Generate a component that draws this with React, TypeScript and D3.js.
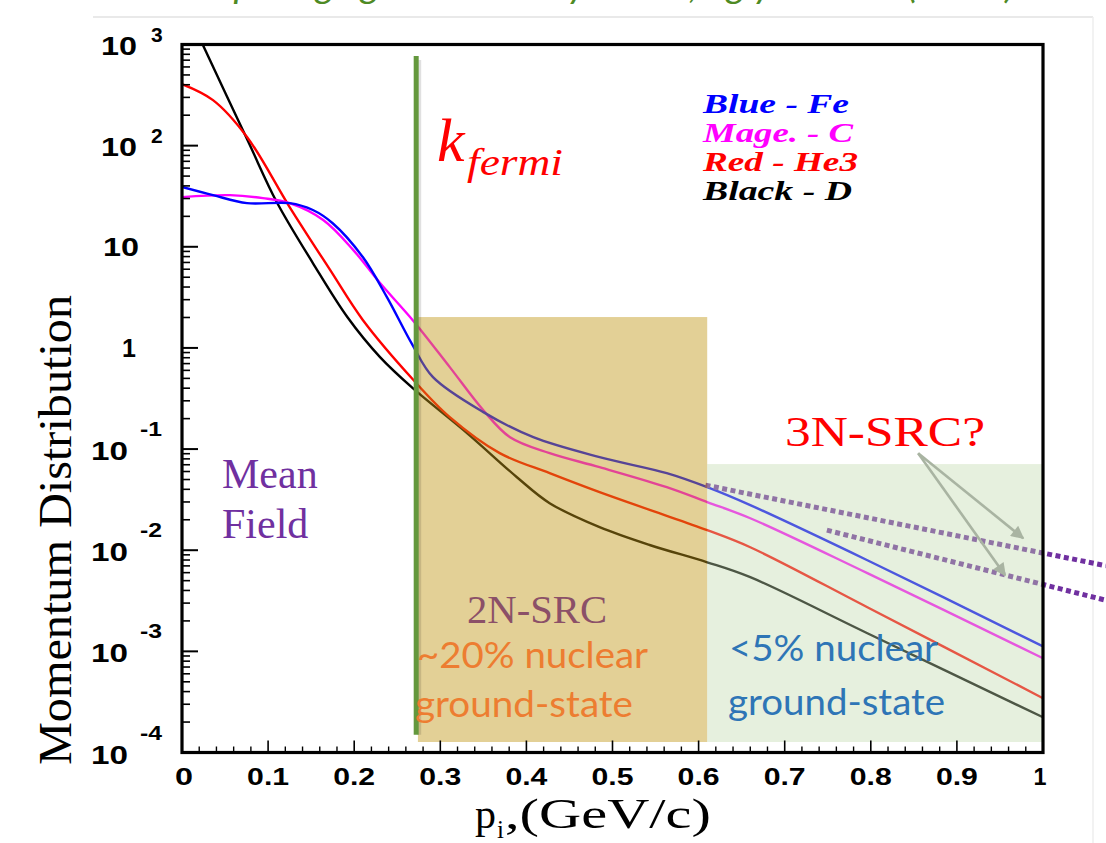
import React from "react";
import * as d3 from "d3";

// momentum (GeV/c) and distribution values, one pair per nucleus
const momentumFe = [0, 0.036, 0.0755, 0.125, 0.152, 0.175, 0.21, 0.238, 0.268, 0.2915, 0.35, 0.408, 0.485, 0.563, 0.61, 0.66, 0.796, 1.0];
const distFe = [39.0, 32.4, 27.0, 27.0, 23.1, 17.1, 7.91, 3.18, 1.06, 0.514, 0.232, 0.131, 0.0832, 0.0578, 0.042, 0.0279, 0.00796, 0.00112];

const momentumC = [0, 0.0557, 0.094, 0.125, 0.164, 0.199, 0.23, 0.268, 0.311, 0.35, 0.381, 0.427, 0.485, 0.563, 0.61, 0.66, 0.796, 1.0];
const distC = [31.0, 32.4, 30.3, 27.0, 18.4, 9.27, 4.38, 1.88, 0.646, 0.242, 0.131, 0.0912, 0.0662, 0.042, 0.0299, 0.0207, 0.00593, 0.000855];

const momentumHe3 = [0, 0.036, 0.0755, 0.125, 0.172, 0.21, 0.268, 0.311, 0.369, 0.427, 0.485, 0.544, 0.61, 0.66, 0.796, 1.0];
const distHe3 = [406, 282, 122, 24.7, 5.9, 1.89, 0.49, 0.207, 0.0912, 0.0578, 0.0375, 0.0249, 0.0158, 0.0107, 0.00273, 0.000344];

const momentumD = [0, 0.024, 0.077, 0.11, 0.152, 0.192, 0.23, 0.268, 0.331, 0.389, 0.427, 0.485, 0.544, 0.61, 0.66, 0.796, 1.0];
const distD = [2750, 1000, 109, 27.7, 6.9, 2.02, 0.811, 0.4, 0.144, 0.0527, 0.0292, 0.0169, 0.0112, 0.0076, 0.00541, 0.00151, 0.000223];

// extrapolated 3N-SRC guesses (start, end)
const dotted1X = [0.608, 1.073];
const dotted1Y = [0.044, 0.00703];
const dotted2X = [0.749, 1.073];
const dotted2Y = [0.01578, 0.0032];

// arrows from the "3N-SRC?" label
const arrowFromX = 0.855;
const arrowFromY = 0.091;
const arrowTipX = [0.977, 0.956];
const arrowTipY = [0.01315, 0.00566];

// regions
const kFermi = 0.272;
const kFermiSpan = [770, 1.5e-4];
const src2X = [0.274, 0.61];
const src2Y = [1.27e-4, 2.02];
const src3X = [0.61, 1.0];
const src3Y = [1.27e-4, 0.0711];

const xTicks = [0, 0.1, 0.2, 0.3, 0.4, 0.5, 0.6, 0.7, 0.8, 0.9, 1];
const xTickLabels = ["0", "0.1", "0.2", "0.3", "0.4", "0.5", "0.6", "0.7", "0.8", "0.9", "1"];
const yExponents = [3, 2, 1, 0, -1, -2, -3, -4];

const legendLabels = ["Blue - Fe", "Mage. - C", "Red - He3", "Black - D"];
const legendColors = ["#0000ff", "#ff00ff", "#ff0000", "#000000"];

const width = 1106;
const height = 843;
const plot = { left: 182, right: 1043, top: 44.5, bottom: 752.5 };

const SERIF = "'Liberation Serif', 'Times New Roman', serif";
const SANS = "'Liberation Sans', Arial, sans-serif";
const GILL = "Lato, 'Open Sans', sans-serif";

export default function App() {
    const x = d3.scaleLinear().domain([0, 1]).range([plot.left, plot.right]);
    const y = d3.scaleLog().domain([1e-4, 1e3]).range([plot.bottom, plot.top]);

    const line = d3
        .line<[number, number]>()
        .x(d => x(d[0]))
        .y(d => y(d[1]))
        .curve(d3.curveCatmullRom.alpha(0.5));

    const series = [
        { name: "D", color: "#000000", p: momentumD, v: distD },
        { name: "He3", color: "#ff0000", p: momentumHe3, v: distHe3 },
        { name: "C", color: "#ff00ff", p: momentumC, v: distC },
        { name: "Fe", color: "#0000ff", p: momentumFe, v: distFe },
    ];

    const yMinor = y.ticks().filter(t => Math.abs(Math.log10(t) - Math.round(Math.log10(t))) > 1e-6);
    const xMinor = d3.range(0, 1.0001, 0.02).filter(t => Math.abs(t * 10 - Math.round(t * 10)) > 1e-6);

    const rect = (xs: number[], ys: number[]) => ({
        x: x(xs[0]),
        y: y(ys[1]),
        width: x(xs[1]) - x(xs[0]),
        height: y(ys[0]) - y(ys[1]),
    });

    const tickFont = { fontFamily: SANS, fontWeight: "bold", fill: "#000" };

    return (
        <svg width={width} height={height} style={{ position: "absolute", left: 0, top: 0, background: "#fff" }}>
            <defs>
                <clipPath id="plotClip">
                    <rect x={plot.left} y={plot.top} width={plot.right - plot.left} height={plot.bottom - plot.top} />
                </clipPath>
                <marker id="arrowHead" viewBox="0 0 10 10" refX="9" refY="5" markerWidth="6" markerHeight="5" orient="auto">
                    <path d="M0,0 L10,5 L0,10 z" fill="#a9b4a2" />
                </marker>
            </defs>

            {/* slide frame and clipped title */}
            <line x1={93} x2={1093} y1={17} y2={17} stroke="#e2e2e2" strokeWidth={1.5} />
            <line x1={1093} x2={1093} y1={17} y2={height} stroke="#eeeeee" strokeWidth={1.5} />
            <text x={160} y={-2} fontFamily={GILL} fontStyle="italic" fontSize={36} fill="#4e8a24"
                textLength={855} lengthAdjust="spacingAndGlyphs">
                Comparing light and heavy nuclei, Egiyan et al. (2006)
            </text>

            {/* momentum distributions */}
            <g clipPath="url(#plotClip)">
                {series.map(s => (
                    <path key={s.name} d={line(s.p.map((p, i) => [p, s.v[i]]) as [number, number][]) || ""}
                        fill="none" stroke={s.color} strokeWidth={2.4} />
                ))}
            </g>

            {/* 3N-SRC extrapolations */}
            {[[dotted1X, dotted1Y], [dotted2X, dotted2Y]].map(([xs, ys], i) => (
                <line key={i} x1={x(xs[0])} y1={y(ys[0])} x2={x(xs[1])} y2={y(ys[1])}
                    stroke="#7030a0" strokeWidth={5} strokeDasharray="5 3.5" />
            ))}

            {/* SRC regions, semi transparent over the curves */}
            <rect {...rect(src2X, src2Y)} fill="rgb(193,151,22)" fillOpacity={0.45} />
            <rect {...rect(src3X, src3Y)} fill="rgb(192,217,172)" fillOpacity={0.4} />

            {/* arrows */}
            {arrowTipX.map((tx, i) => (
                <line key={i} x1={x(arrowFromX)} y1={y(arrowFromY)} x2={x(tx)} y2={y(arrowTipY[i])}
                    stroke="#a9b4a2" strokeWidth={2.6} markerEnd="url(#arrowHead)" />
            ))}

            {/* k fermi line */}
            <line x1={x(kFermi) + 3} x2={x(kFermi) + 3} y1={y(kFermiSpan[0]) + 4} y2={y(kFermiSpan[1])}
                stroke="#000" strokeOpacity={0.12} strokeWidth={4} />
            <line x1={x(kFermi)} x2={x(kFermi)} y1={y(kFermiSpan[0])} y2={y(kFermiSpan[1])}
                stroke="#64983d" strokeWidth={5} />

            {/* frame */}
            <rect x={plot.left} y={plot.top} width={plot.right - plot.left} height={plot.bottom - plot.top}
                fill="none" stroke="#000" strokeWidth={3.2} />

            {/* y ticks */}
            {yExponents.map(e => (
                <line key={"ym" + e} x1={plot.left} x2={plot.left + 16} y1={y(10 ** e)} y2={y(10 ** e)}
                    stroke="#000" strokeWidth={2} />
            ))}
            {yMinor.map((t, i) => (
                <line key={"yn" + i} x1={plot.left} x2={plot.left + 8} y1={y(t)} y2={y(t)}
                    stroke="#000" strokeWidth={1.6} />
            ))}

            {/* x ticks */}
            {xTicks.map(t => (
                <line key={"xm" + t} x1={x(t)} x2={x(t)} y1={plot.bottom} y2={plot.bottom - 12}
                    stroke="#000" strokeWidth={1.6} />
            ))}
            {xMinor.map((t, i) => (
                <line key={"xn" + i} x1={x(t)} x2={x(t)} y1={plot.bottom} y2={plot.bottom - 6}
                    stroke="#000" strokeWidth={1.4} />
            ))}

            {/* x tick labels */}
            {xTicks.map((t, i) => {
                const lbl = xTickLabels[i];
                const len = lbl.length > 1 ? 42 : lbl === "0" ? 18 : 13;
                return (
                    <text key={"xl" + t} x={x(t) + (i === 0 ? 2 : i === xTicks.length - 1 ? -3 : 0)} y={785}
                        textAnchor="middle" fontSize={24} {...tickFont}
                        textLength={len} lengthAdjust="spacingAndGlyphs">
                        {lbl}
                    </text>
                );
            })}

            {/* y tick labels */}
            {yExponents.map(e => {
                const ty = y(10 ** e);
                if (e === 0) return <text key={"yl" + e} x={136} y={ty + 9} textAnchor="end" fontSize={25} {...tickFont}>1</text>;
                if (e === 1) return (
                    <text key={"yl" + e} x={103} y={ty + 9} fontSize={25} {...tickFont}
                        textLength={36} lengthAdjust="spacingAndGlyphs">10</text>
                );
                if (e > 1) return (
                    <g key={"yl" + e}>
                        <text x={101} y={ty + 10} fontSize={25} {...tickFont}
                            textLength={36} lengthAdjust="spacingAndGlyphs">10</text>
                        <text x={151} y={ty - 3} fontSize={21} {...tickFont}>{e}</text>
                    </g>
                );
                return (
                    <g key={"yl" + e}>
                        <text x={91} y={ty + 11} fontSize={25} {...tickFont}
                            textLength={37} lengthAdjust="spacingAndGlyphs">10</text>
                        <text x={140} y={ty - 13} fontSize={21} {...tickFont}
                            textLength={22} lengthAdjust="spacingAndGlyphs">{"-" + Math.abs(e)}</text>
                    </g>
                );
            })}

            {/* axis titles */}
            <text transform="translate(71,530) rotate(-90)" textAnchor="middle" fontFamily={SERIF}
                fontSize={47} fill="#000" textLength={470} lengthAdjust="spacingAndGlyphs">
                Momentum Distribution
            </text>
            <text x={475} y={828} fontFamily={SERIF} fontSize={42} fill="#000">p</text>
            <text x={497} y={838} fontFamily={SERIF} fontSize={25} fill="#000">i</text>
            <text x={505} y={828} fontFamily={SERIF} fontSize={42} fill="#000"
                textLength={206} lengthAdjust="spacingAndGlyphs">,(GeV/c)</text>

            {/* legend */}
            {legendLabels.map((l, i) => (
                <text key={l} x={703} y={113 + i * 29} fontFamily={SERIF} fontStyle="italic" fontWeight="bold"
                    fontSize={28} fill={legendColors[i]} textLength={[146, 150, 155, 149][i]}
                    lengthAdjust="spacingAndGlyphs">
                    {l}
                </text>
            ))}

            {/* annotations */}
            <text x={437} y={161} fontFamily={SERIF} fontStyle="italic" fontSize={62} fill="#f00">k</text>
            <text x={467} y={175} fontFamily={SERIF} fontStyle="italic" fontSize={38} fill="#f00"
                textLength={96} lengthAdjust="spacingAndGlyphs">fermi</text>

            <text x={222} y={488} fontFamily={SERIF} fontSize={42} fill="#7030a0">Mean</text>
            <text x={222} y={538} fontFamily={SERIF} fontSize={42} fill="#7030a0">Field</text>

            <text x={785} y={446} fontFamily={SERIF} fontSize={42} fill="#f00"
                textLength={200} lengthAdjust="spacingAndGlyphs">3N-SRC?</text>

            <text x={467} y={623} fontFamily={SERIF} fontSize={40} fill="#8b5068"
                textLength={140} lengthAdjust="spacingAndGlyphs">2N-SRC</text>
            <text x={417} y={668} fontFamily={GILL} fontSize={37} fill="#ed7d31"
                textLength={231} lengthAdjust="spacingAndGlyphs">~20% nuclear</text>
            <text x={415} y={717} fontFamily={GILL} fontSize={37} fill="#ed7d31"
                textLength={218} lengthAdjust="spacingAndGlyphs">ground-state</text>

            <text x={729} y={661} fontFamily={GILL} fontSize={37} fill="#2e75b6"
                textLength={209} lengthAdjust="spacingAndGlyphs">&lt;5% nuclear</text>
            <text x={728} y={715} fontFamily={GILL} fontSize={37} fill="#2e75b6"
                textLength={217} lengthAdjust="spacingAndGlyphs">ground-state</text>
        </svg>
    );
}
